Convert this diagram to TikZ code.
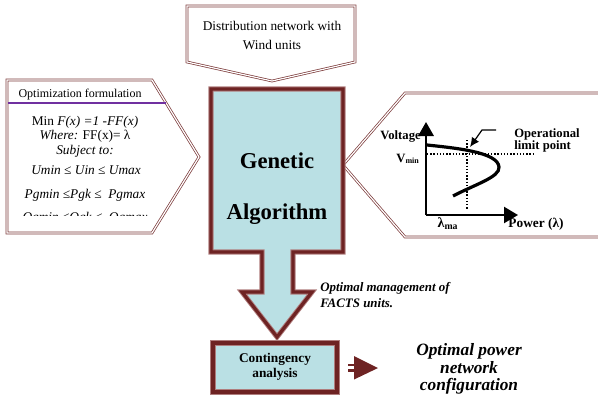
\documentclass[tikz,border=0pt]{standalone}
\usepackage{fontspec}
\setmainfont{Liberation Serif}[BoldFont={Liberation Serif Bold}, ItalicFont={Liberation Serif Italic}, BoldItalicFont={Liberation Serif Bold Italic}]
\usetikzlibrary{arrows.meta}
\definecolor{darkmaroon}{RGB}{110,35,35}
\definecolor{mauve}{RGB}{175,125,125}
\definecolor{pentline}{RGB}{125,60,60}
\definecolor{cyanfill}{RGB}{186,224,228}
\definecolor{hdrline}{RGB}{112,48,160}
\begin{document}
\begin{tikzpicture}[x=0.75pt,y=-0.75pt,
  pent/.style={draw=pentline, double=white, double distance=0.9pt, line width=0.55pt, line join=miter},
  outerline/.style={draw=mauve, line width=3.8pt, line join=miter},
  innerline/.style={draw=darkmaroon, line width=2.4pt, line join=miter},
  txt/.style={inner sep=0pt, font=\fontsize{10}{12}\selectfont},
  bodytxt/.style={inner sep=0pt, font=\fontsize{10}{12}\selectfont\itshape},
  glab/.style={inner sep=0pt, font=\fontsize{9.5}{9}\selectfont\bfseries},
  gatxt/.style={inner sep=0pt, font=\fontsize{17}{20}\selectfont\bfseries},
  bitxt/.style={inner sep=0pt, font=\fontsize{9.7}{11.3}\selectfont\bfseries\itshape}]
\useasboundingbox (0,0) rectangle (598,403);

% top pentagon
\draw[pent] (187,6) -- (355,6) -- (355,62) -- (272,81) -- (187,62) -- cycle;
\node[txt, align=center, font=\fontsize{10}{14.25}\selectfont] (dist) at (272,35) {Distribution network with\\Wind units};

% left pentagon
\draw[pent] (7,80) -- (152,80) -- (199,157) -- (152,233) -- (7,233) -- cycle;
\coordinate (hl) at (8,103);
\coordinate (hr) at (166,103);
\draw[hdrline, line width=1.2pt] (hl) -- (hr);
\node[txt, font=\fontsize{9}{11}\selectfont] (hdr) at (80,95) {Optimization formulation};
\node[txt] (l1) at (85,122) {Min \textit{F(x) =1 -FF(x)}};
\node[txt] (l2) at (85,136) {\textit{Where:} FF(x)= λ};
\node[bodytxt] (l3) at (85,151) {Subject to:};
\node[bodytxt] (l4) at (86,170) {Umin ≤ Uin ≤ Umax};
\node[bodytxt] (l5) at (85,195) {Pgmin ≤Pgk ≤ \ Pgmax};
\begin{scope}
\clip (0,0) rectangle (200,215.5);
\node[bodytxt, anchor=base] (l6) at (85,221) {Qgmin ≤Qgk ≤ \ Qgmax};
\end{scope}

% right pentagon
\draw[pent] (598,93) -- (405,93) -- (343,165) -- (405,237) -- (598,237);

% GA block arrow
\path[fill=cyanfill] (211,89) -- (343,89) -- (343,252) -- (293,252) -- (293,292) -- (312,292) -- (277,337) -- (242,292) -- (262,292) -- (262,252) -- (211,252) -- cycle;
\draw[outerline] (211,89) -- (343,89) -- (343,252) -- (293,252) -- (293,292) -- (312,292) -- (277,337) -- (242,292) -- (262,292) -- (262,252) -- (211,252) -- cycle;
\draw[innerline] (211,89) -- (343,89) -- (343,252) -- (293,252) -- (293,292) -- (312,292) -- (277,337) -- (242,292) -- (262,292) -- (262,252) -- (211,252) -- cycle;
\node[gatxt] (gen) at (277,161) {Genetic};
\node[gatxt] (alg) at (277,214) {Algorithm};

% optimal management text
\node[bitxt, anchor=west, align=left] (mgmt) at (320,295) {Optimal management of\\FACTS units.};

% contingency box
\path[fill=cyanfill] (213,343) rectangle (337,392);
\draw[outerline] (213,343) rectangle (337,392);
\draw[innerline] (213,343) rectangle (337,392);
\node[txt, align=center, font=\fontsize{10}{11.25}\selectfont\bfseries] (cont) at (275,367) {Contingency\\analysis};

% small striped arrow
\fill[darkmaroon] (348,363.5) rectangle (355,366.3);
\fill[darkmaroon] (348,368.7) rectangle (355,371.5);
\fill[darkmaroon] (354,356) -- (378,368) -- (354,379.5) -- cycle;

% result text
\node[inner sep=0pt, align=center, font=\fontsize{13}{13.3}\selectfont\bfseries\itshape] (res) at (469,369) {Optimal power\\network\\configuration};

% PV curve plot
\coordinate (o) at (426,215);
\coordinate (ytop) at (426,122);
\coordinate (xend) at (518,215);
\draw[line width=1.7pt, -{Triangle[length=10.5pt,width=11.5pt]}] (o) -- (ytop);
\draw[line width=1.7pt, -{Triangle[length=10.5pt,width=12pt]}] (o) -- (xend);
\coordinate (dh1) at (427,154);
\coordinate (dh2) at (533,154);
\coordinate (dv1) at (467,140);
\coordinate (dv2) at (467,210);
\draw[line width=1pt, dash pattern=on 1pt off 1.4pt] (dh1) -- (dh2);
\draw[line width=1pt, dash pattern=on 1pt off 1.4pt] (dv1) -- (dv2);
\coordinate (cs) at (427,145);
\coordinate (nose) at (499,167);
\coordinate (ce) at (453,196);
\draw[line width=2.4pt] (cs) .. controls (455,148) and (498,152) .. (nose) .. controls (500,177) and (476,184) .. (ce);
\coordinate (c1) at (496,130);
\coordinate (c2) at (482,130);
\coordinate (c3) at (470,147);
\draw[line width=0.9pt, -{Latex[length=7pt,width=6.5pt]}] (c1) -- (c2) -- (c3);
\node[glab, anchor=east] (volt) at (421,137) {Voltage};
\node[glab] (vmin) at (408,159) {V\textsubscript{\fontsize{6}{6}\selectfont min}};
\node[glab, anchor=west, align=left] (olp) at (514,140) {Operational\\limit point};
\node[inner sep=0pt, font=\fontsize{10.5}{12}\selectfont\bfseries] (lam) at (448,224) {λ\textsubscript{ma}};
\node[glab, font=\fontsize{10}{12}\selectfont\bfseries] (pow) at (536,224) {Power (λ)};
\end{tikzpicture}
\end{document}
